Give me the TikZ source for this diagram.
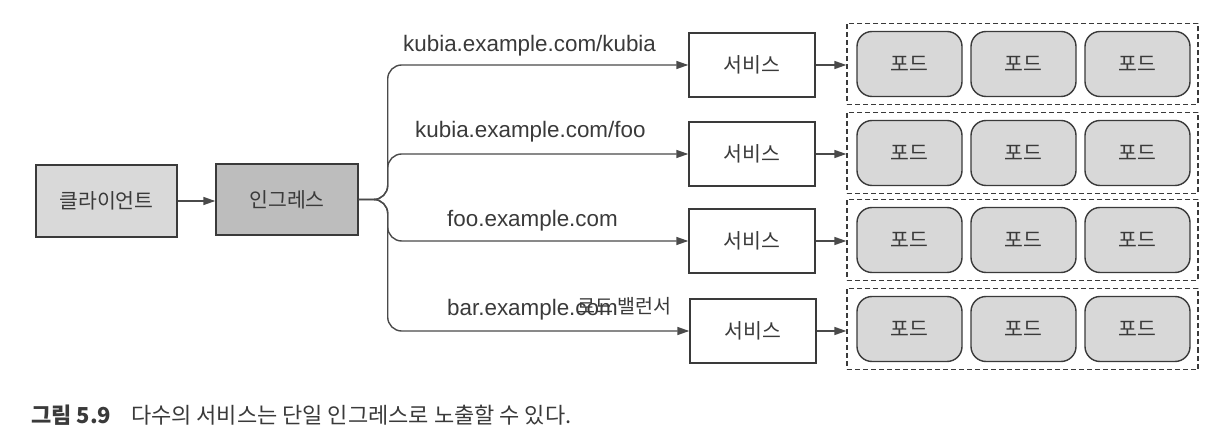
\documentclass[tikz,border=0pt]{standalone}
\usepackage{fontspec}
\setmainfont{Liberation Sans}
\newfontfamily\kr{Noto Sans CJK KR}
\usetikzlibrary{arrows.meta}
\definecolor{ink}{HTML}{3A3A3A}
\definecolor{lineink}{HTML}{4A4A4A}
\definecolor{clientfill}{HTML}{D9D9D9}
\definecolor{ingfill}{HTML}{BDBDBD}
\definecolor{podfill}{HTML}{D8D8D8}
\tikzset{
  boxbase/.style={draw=ink, line width=1.4pt, text=ink, font=\kr\fontsize{20.5}{23}\selectfont, inner sep=0pt},
  clientbox/.style={boxbase, fill=clientfill, minimum width=141pt, minimum height=72pt},
  ingbox/.style={boxbase, fill=ingfill, minimum width=142pt, minimum height=71pt},
  svcbox/.style={boxbase, fill=white, minimum width=126pt, minimum height=64pt},
  podbox/.style={boxbase, fill=podfill, rounded corners=15pt, minimum width=105pt, minimum height=65pt},
  grpbox/.style={draw=ink, line width=1.3pt, dash pattern=on 5pt off 3pt, minimum width=351pt, minimum height=81pt, inner sep=0pt},
  conn/.style={draw=lineink, line width=1.4pt, -{Triangle[length=12pt,width=8pt]}},
  urllabel/.style={anchor=base west, inner sep=0pt, text=ink, font=\fontsize{22.4}{26}\selectfont},
  caption/.style={anchor=base west, inner sep=0pt, text=ink, font=\kr\fontsize{22}{26}\selectfont}
}
\begin{document}
\begin{tikzpicture}[x=1pt,y=-1pt]
\useasboundingbox[fill=white] (0,0) rectangle (1223,443);

\node[clientbox] (client) at (106.5,201) {클라이언트};
\node[ingbox] (ingress) at (287,199.5) {인그레스};
\draw[conn] (client.east) -- (client.east -| ingress.west);

% services
\node[svcbox] (svc1) at (752,65) {서비스};
\node[svcbox] (svc2) at (752,154) {서비스};
\node[svcbox] (svc3) at (752,241) {서비스};
\node[svcbox] (svc4) at (753,331) {서비스};

% branches
\foreach \s in {svc1,svc2,svc3,svc4}{
  \draw[conn, rounded corners=14pt] (ingress.east) -- ++(29,0) |- (\s.west);
}

% labels
\node[urllabel] (l1) at (403,52) {kubia.example.com/kubia};
\node[urllabel] (l2) at (415,138) {kubia.example.com/foo};
\node[urllabel] (l3) at (447,227) {foo.example.com};
\node[urllabel] (l4) at (447,316) {bar.example.com};
\node[anchor=base west, inner sep=0pt, text=ink, font=\kr\fontsize{19.5}{22}\selectfont] (l4b) at (577,314) {로드 밸런서};

% groups and pods
\foreach \i/\y in {1/64,2/153,3/240,4/329}{
  \node[grpbox] (grp\i) at (1022.5,\y) {};
  \node[podbox] (pod\i a) at (909.5,\y) {포드};
  \node[podbox] (pod\i b) at (1023.5,\y) {포드};
  \node[podbox] (pod\i c) at (1137.5,\y) {포드};
  \draw[conn] (svc\i.east) -- (svc\i.east -| grp\i.west);
}

% caption
\node[caption] (cap) at (31,423) {\textbf{그림 5.9}\hspace{0.9em}다수의 서비스는 단일 인그레스로 노출할 수 있다.};
\end{tikzpicture}
\end{document}
